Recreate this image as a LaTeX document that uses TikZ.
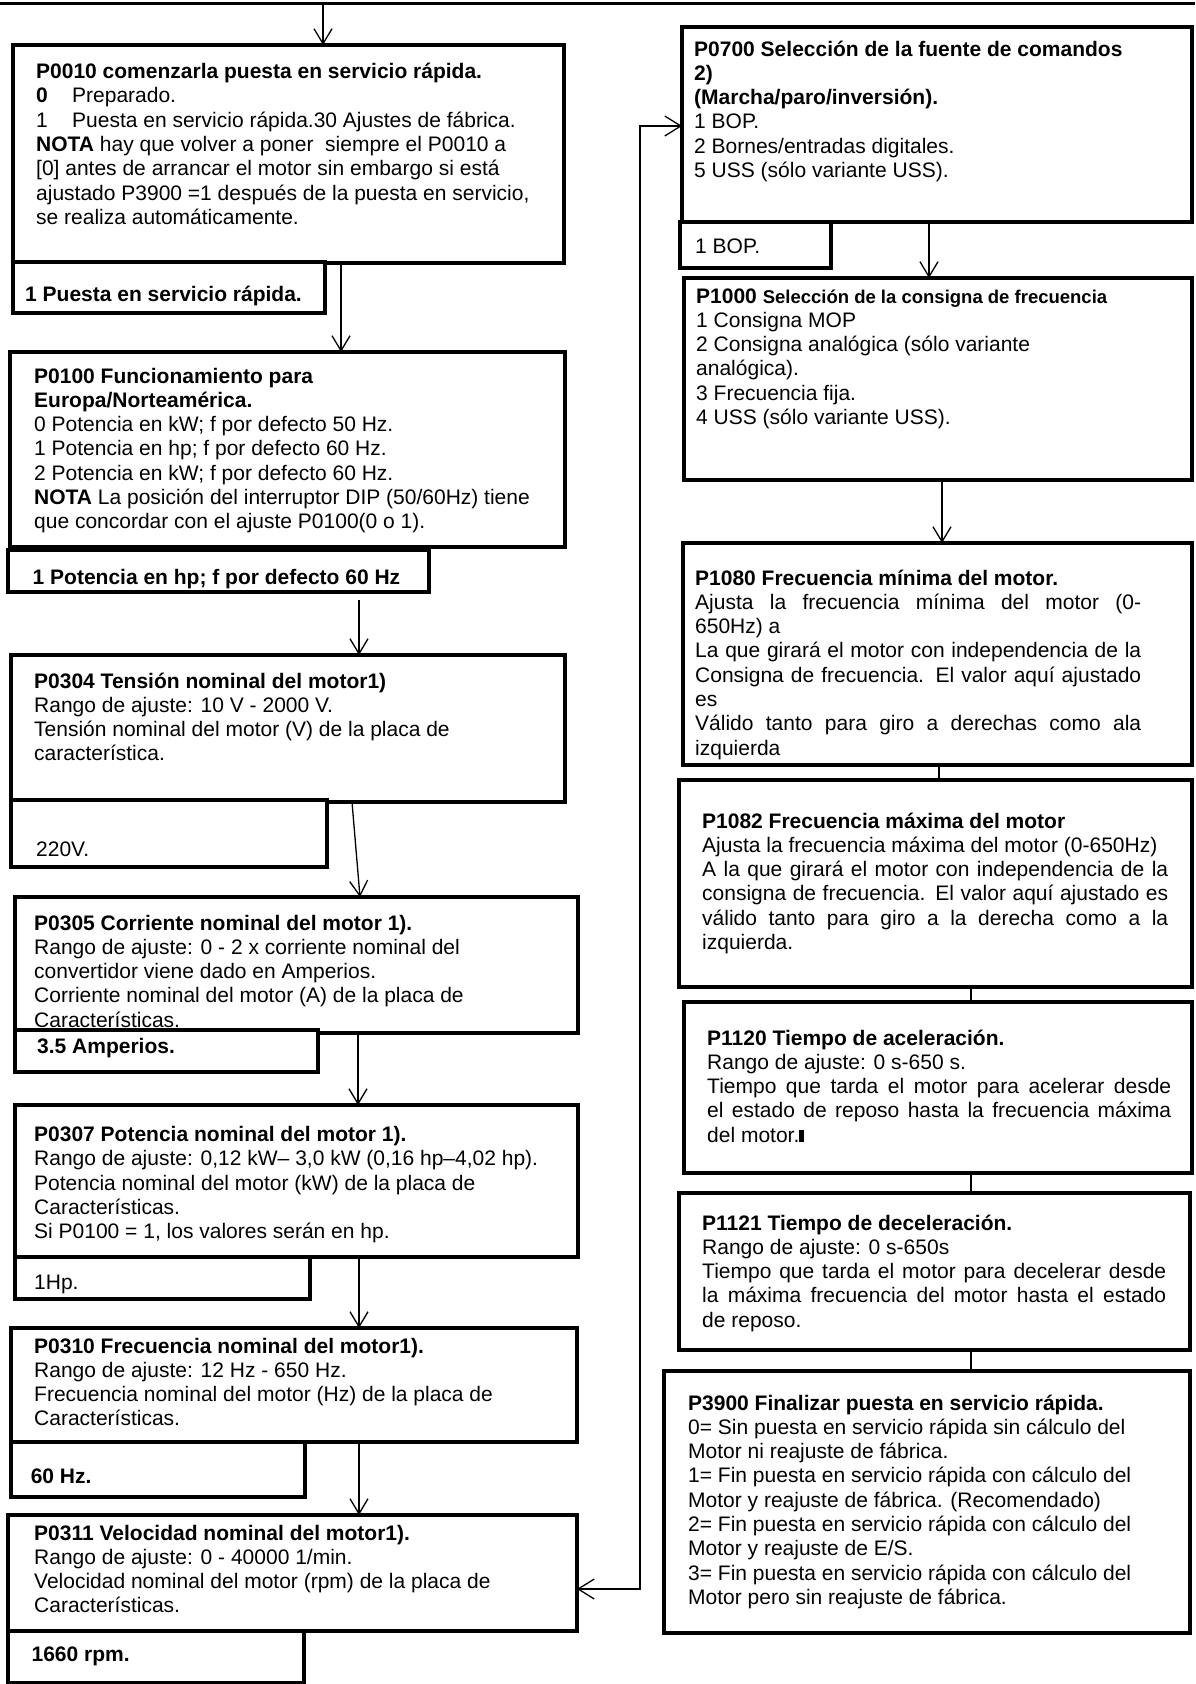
\documentclass[tikz,border=0pt]{standalone}
\usepackage{fontspec}
\setmainfont{Liberation Sans}
\usepackage{tikz}
\usetikzlibrary{arrows.meta,positioning,calc}
\newcommand{\bodyfont}{\fontsize{21}{24.3}\selectfont}
\newcommand{\lns}[1]{\begin{tabular}[t]{@{}l@{}}#1\end{tabular}}
\newcommand{\jst}[2]{\makebox[#1][s]{#2}}

\begin{document}
\begin{tikzpicture}[x=1pt, y=-1pt,
    pbox/.style={draw, line width=3.5pt, anchor=north west, inner sep=0pt, outer sep=0pt},
    valbox/.style={pbox, fill=white},
    txt/.style={anchor=base west, inner sep=0pt, font=\bodyfont},
    arr/.style={line width=1.3pt, -{Straight Barb[length=15pt,width=18pt]}},
    link/.style={line width=1.3pt},
    both/.style={line width=1.3pt, {Straight Barb[length=16pt,width=20pt]}-{Straight Barb[length=16pt,width=20pt]}}]

    \useasboundingbox (0,0) rectangle (1195,1684);
    \draw[line width=3.3pt] (0,3.3) -- (1195,3.3);

    % Left column
    \node[pbox, minimum width=551pt, minimum height=218pt] (p0010) at (13,45) {};
    \node[txt] (t0010) at (36,78.5) {\lns{\textbf{P0010 comenzarla puesta en servicio rápida.}\\
        \makebox[36pt][l]{\textbf{0}}Preparado.\\
        \makebox[36pt][l]{1}Puesta en servicio rápida.30 Ajustes de fábrica.\\
        \textbf{NOTA} hay que volver a poner\ \ siempre el P0010 a\\
        {[0]} antes de arrancar el motor sin embargo si está\\
        ajustado P3900 =1 después de la puesta en servicio,\\
        se realiza automáticamente.}};
    \node[valbox, minimum width=312pt, minimum height=51pt] (v0010) at (13,262) {};
    \node[txt] (tv0010) at (25,301.5) {\textbf{1 Puesta en servicio rápida.}};

    \node[pbox, minimum width=555pt, minimum height=195pt] (p0100) at (10,352) {};
    \node[txt] (t0100) at (34,383) {\lns{\textbf{P0100 Funcionamiento para}\\
        \textbf{Europa/Norteamérica.}\\
        0 Potencia en kW; f por defecto 50 Hz.\\
        1 Potencia en hp; f por defecto 60 Hz.\\
        2 Potencia en kW; f por defecto 60 Hz.\\
        \textbf{NOTA} La posición del interruptor DIP (50/60Hz) tiene\\
        que concordar con el ajuste P0100(0 o 1).}};
    \node[valbox, minimum width=421pt, minimum height=42pt] (v0100) at (8,550) {};
    \node[txt] (tv0100) at (32.5,584) {\textbf{1 Potencia en hp; f por defecto 60 Hz}};

    \node[pbox, minimum width=554pt, minimum height=147pt] (p0304) at (11,655) {};
    \node[txt] (t0304) at (34,688) {\lns{\textbf{P0304 Tensión nominal del motor1)}\\
        Rango de ajuste: 10 V - 2000 V.\\
        Tensión nominal del motor (V) de la placa de\\
        característica.}};
    \node[valbox, minimum width=316pt, minimum height=67pt] (v0304) at (11,800) {};
    \node[txt] (tv0304) at (36,856.5) {220V.};

    \node[pbox, minimum width=563pt, minimum height=136pt] (p0305) at (15,897) {};
    \node[txt] (t0305) at (34,930) {\lns{\textbf{P0305 Corriente nominal del motor 1).}\\
        Rango de ajuste: 0 - 2 x corriente nominal del\\
        convertidor viene dado en Amperios.\\
        Corriente nominal del motor (A) de la placa de\\
        Características.}};
    \node[valbox, minimum width=303pt, minimum height=42pt] (v0305) at (15,1030) {};
    \node[txt] (tv0305) at (37,1053) {\textbf{3.5 Amperios.}};

    \node[pbox, minimum width=563pt, minimum height=152pt] (p0307) at (15,1105) {};
    \node[txt] (t0307) at (34,1141.5) {\lns{\textbf{P0307 Potencia nominal del motor 1).}\\
        Rango de ajuste: 0,12 kW– 3,0 kW (0,16 hp–4,02 hp).\\
        Potencia nominal del motor (kW) de la placa de\\
        Características.\\
        Si P0100 = 1, los valores serán en hp.}};
    \node[valbox, minimum width=295pt, minimum height=42pt] (v0307) at (15,1257) {};
    \node[txt] (tv0307) at (34,1289.5) {1Hp.};

    \node[pbox, minimum width=566pt, minimum height=114pt] (p0310) at (11,1328) {};
    \node[txt] (t0310) at (34,1353) {\lns{\textbf{P0310 Frecuencia nominal del motor1).}\\
        Rango de ajuste: 12 Hz - 650 Hz.\\
        Frecuencia nominal del motor (Hz) de la placa de\\
        Características.}};
    \node[valbox, minimum width=294pt, minimum height=55pt] (v0310) at (11,1442) {};
    \node[txt] (tv0310) at (30.6,1483) {\textbf{60 Hz.}};

    \node[pbox, minimum width=569pt, minimum height=116pt] (p0311) at (8,1515) {};
    \node[txt] (t0311) at (34,1540) {\lns{\textbf{P0311 Velocidad nominal del motor1).}\\
        Rango de ajuste: 0 - 40000 1/min.\\
        Velocidad nominal del motor (rpm) de la placa de\\
        Características.}};
    \node[valbox, minimum width=296pt, minimum height=52pt] (v0311) at (8,1631) {};
    \node[txt] (tv0311) at (31.4,1661.5) {\textbf{1660 rpm.}};

    % Right column
    \node[pbox, minimum width=510pt, minimum height=195pt] (p0700) at (682,27) {};
    \node[txt] (t0700) at (694,56) {\lns{\textbf{P0700 Selección de la fuente de comandos}\\
        \textbf{2)}\\
        \textbf{(Marcha/paro/inversión).}\\
        1 BOP.\\
        2 Bornes/entradas digitales.\\
        5 USS (sólo variante USS).}};
    \node[valbox, minimum width=151pt, minimum height=46pt] (v0700) at (680,222) {};
    \node[txt] (tv0700) at (695,253) {1 BOP.};

    \node[pbox, minimum width=508pt, minimum height=202pt] (p1000) at (684,278) {};
    \node[txt] (t1000) at (696,303) {\lns{\textbf{P1000} {\fontsize{18.5}{24.3}\selectfont\bfseries Selección de la consigna de frecuencia}\\
        1 Consigna MOP\\
        2 Consigna analógica (sólo variante\\
        analógica).\\
        3 Frecuencia fija.\\
        4 USS (sólo variante USS).}};

    \node[pbox, minimum width=509pt, minimum height=222pt] (p1080) at (683,543) {};
    \node[txt] (t1080) at (695,585) {\lns{\textbf{P1080 Frecuencia mínima del motor.}\\
        \jst{446pt}{Ajusta la frecuencia mínima del motor (0-}\\
        650Hz) a\\
        \jst{446pt}{La que girará el motor con independencia de la}\\
        \jst{446pt}{Consigna de frecuencia. El valor aquí ajustado}\\
        es\\
        \jst{446pt}{Válido tanto para giro a derechas como ala}\\
        izquierda}};

    \node[pbox, minimum width=513pt, minimum height=207pt] (p1082) at (679,780) {};
    \node[txt] (t1082) at (702,828) {\lns{\textbf{P1082 Frecuencia máxima del motor}\\
        Ajusta la frecuencia máxima del motor (0-650Hz)\\
        \jst{466pt}{A la que girará el motor con independencia de la}\\
        \jst{466pt}{consigna de frecuencia. El valor aquí ajustado es}\\
        \jst{466pt}{válido tanto para giro a la derecha como a la}\\
        izquierda.}};

    \node[pbox, minimum width=508pt, minimum height=171pt] (p1120) at (684,1002) {};
    \node[txt] (t1120) at (707,1045) {\lns{\textbf{P1120 Tiempo de aceleración.}\\
        Rango de ajuste: 0 s-650 s.\\
        \jst{464pt}{Tiempo que tarda el motor para acelerar desde}\\
        \jst{464pt}{el estado de reposo hasta la frecuencia máxima}\\
        del motor.\rule{4.5pt}{12.5pt}}};

    \node[pbox, minimum width=511pt, minimum height=157pt] (p1121) at (679,1193) {};
    \node[txt] (t1121) at (702,1230) {\lns{\textbf{P1121 Tiempo de deceleración.}\\
        Rango de ajuste: 0 s-650s\\
        \jst{464pt}{Tiempo que tarda el motor para decelerar desde}\\
        \jst{464pt}{la máxima frecuencia del motor hasta el estado}\\
        de reposo.}};

    \node[pbox, minimum width=526pt, minimum height=262pt] (p3900) at (664,1371) {};
    \node[txt] (t3900) at (688,1410) {\lns{\textbf{P3900 Finalizar puesta en servicio rápida.}\\
        0= Sin puesta en servicio rápida sin cálculo del\\
        Motor ni reajuste de fábrica.\\
        1= Fin puesta en servicio rápida con cálculo del\\
        Motor y reajuste de fábrica. (Recomendado)\\
        2= Fin puesta en servicio rápida con cálculo del\\
        Motor y reajuste de E/S.\\
        3= Fin puesta en servicio rápida con cálculo del\\
        Motor pero sin reajuste de fábrica.}};

    % Connectors
    \coordinate (k0) at (323,3.3);
    \coordinate (k1) at (341,0);
    \coordinate (k2) at (359,600);
    \coordinate (k3) at (352,0);
    \coordinate (k3b) at (360,0);
    \coordinate (k4) at (358,0);
    \coordinate (k5) at (359,0);
    \coordinate (r1) at (929,0);
    \coordinate (r2) at (942,0);
    \coordinate (r3) at (939,0);
    \coordinate (r4) at (971,0);
    \coordinate (fbt) at (640,126);
    \coordinate (fbl) at (640,1589);

    \draw[arr] (k0) -- (k0 |- p0010.north);
    \draw[arr] (k1 |- p0010.south) -- (k1 |- p0100.north);
    \draw[arr] (k2) -- (k2 |- p0304.north);
    \draw[arr] (k3 |- p0304.south) -- (k3b |- p0305.north);
    \draw[arr] (k4 |- p0305.south) -- (k4 |- p0307.north);
    \draw[arr] (k5 |- p0307.south) -- (k5 |- p0310.north);
    \draw[arr] (k5 |- p0310.south) -- (k5 |- p0311.north);

    \draw[arr] (r1 |- p0700.south) -- (r1 |- p1000.north);
    \draw[arr] (r2 |- p1000.south) -- (r2 |- p1080.north);
    \draw[link] (r3 |- p1080.south) -- (r3 |- p1082.north);
    \draw[link] (r4 |- p1082.south) -- (r4 |- p1120.north);
    \draw[link] (r4 |- p1120.south) -- (r4 |- p1121.north);
    \draw[link] (r4 |- p1121.south) -- (r4 |- p3900.north);

    \draw[both] (fbl -| p0311.east) -- (fbl) -- (fbt) -- (fbt -| p0700.west);
\end{tikzpicture}
\end{document}
